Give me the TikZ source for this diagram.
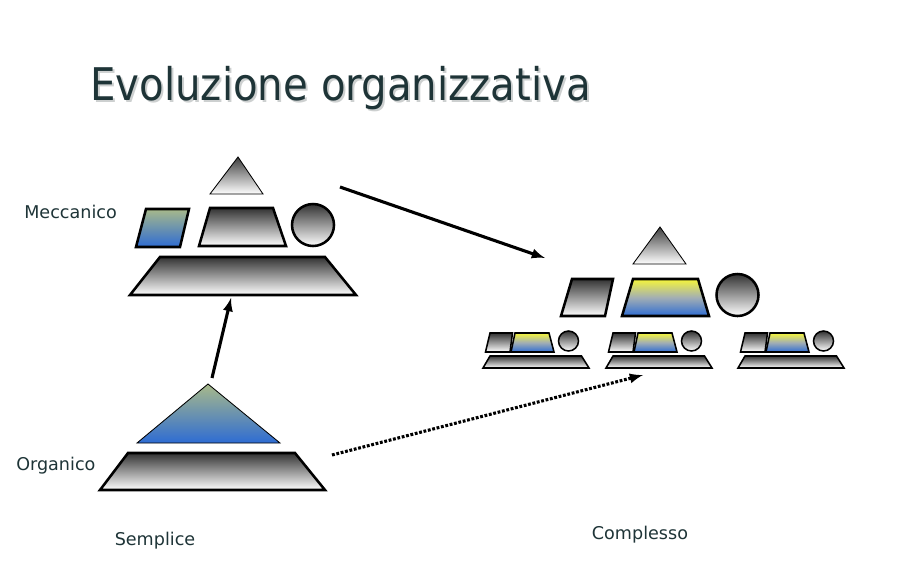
\documentclass[tikz,border=0pt]{standalone}
\usepackage{fontspec}
\usepackage{graphicx}
\setmainfont{DejaVu Sans}

\definecolor{titleink}{HTML}{1E3437}
\definecolor{titleshade}{HTML}{CDD0D0}
\definecolor{moss}{HTML}{A8B98A}
\definecolor{sky}{HTML}{2E6CD3}
\definecolor{lemon}{HTML}{F6F63A}
\definecolor{haze}{HTML}{A2AEB4}

\begin{document}
\begin{tikzpicture}[
  x=0.025cm, y=-0.025cm,
  grayshape/.style={
        draw=black,
        line width=1.8pt,
        top color=black!80,
        bottom color=white
  },
  smallgray/.style={grayshape, line width=1.1pt},
  thintri/.style={
        draw=black,
        line width=0.6pt,
        top color=black!75,
        bottom color=white
  },
  blueshape/.style={
        draw=black,
        line width=1.8pt,
        top color=moss,
        bottom color=sky
  },
  yellowshape/.style={
        draw=black,
        line width=1.8pt,
        top color=lemon,
        bottom color=sky,
        middle color=haze
  },
  smallyellow/.style={yellowshape, line width=1.1pt},
  label/.style={font=\fontsize{12.5}{14}\selectfont, text=titleink, inner sep=0pt},
  link/.style={line width=2.2pt, -latex}
]

    \useasboundingbox (0,0) rectangle (907,567);

    % title
    \node[anchor=base west, inner sep=0pt, text=titleshade,
          font=\fontsize{32}{36}\selectfont] (T_s) at (92,102)
          {\scalebox{0.895}[1]{Evoluzione organizzativa}};
    \node[anchor=base west, inner sep=0pt, text=titleink,
          font=\fontsize{32}{36}\selectfont] (T) at (90,100)
          {\scalebox{0.895}[1]{Evoluzione organizzativa}};

    % meccanico
    \node[label, anchor=west] (L_mec) at (24,212) {Meccanico};
    \path[thintri] (238,157) -- (263,194) -- (210,194) -- cycle;
    \path[blueshape] (146,209) -- (189,209) -- (180,247) -- (136,247) -- cycle;
    \path[grayshape] (210,208) -- (273,208) -- (286,246) -- (199,246) -- cycle;
    \path[grayshape] (313,225) circle (21);
    \path[grayshape] (160,257) -- (325,257) -- (356,295) -- (130,295) -- cycle;
    \coordinate (M_base) at (231,298);
    \coordinate (M_right) at (340,187);

    % organico
    \node[label, anchor=west] (L_org) at (16,466) {Organico};
    \path[thintri, top color=moss, bottom color=sky] (208,384) -- (280,443) -- (137,443) -- cycle;
    \path[grayshape] (128,453) -- (295,453) -- (325,490) -- (100,490) -- cycle;
    \coordinate (O_top) at (212,378);
    \coordinate (O_right) at (332,455);
    \node[label] (L_sem) at (155,541) {Semplice};

    % complesso
    \path[thintri] (660,227) -- (686,264) -- (633,264) -- cycle;
    \path[grayshape] (572,279) -- (613,279) -- (605,316) -- (561,316) -- cycle;
    \path[yellowshape] (633,279) -- (698,279) -- (709,316) -- (622,316) -- cycle;
    \path[grayshape] (737.5,295) circle (21);
    \coordinate (C_top) at (545,258);
    \coordinate (C_mid) at (643,375);
    \node[label] (L_com) at (640,535) {Complesso};

    \begin{scope}[shift={(0,0)}]
        \path[smallgray] (490,333) -- (512.5,333) -- (510,352) -- (485.5,352) -- cycle;
        \path[smallyellow] (515,333) -- (549,333) -- (554,352) -- (511,352) -- cycle;
        \path[smallgray] (568.5,341) circle (10);
        \path[smallgray] (490,356) -- (581.5,356) -- (589,368) -- (483,368) -- cycle;
    \end{scope}
    \begin{scope}[shift={(123,0)}]
        \path[smallgray] (490,333) -- (512.5,333) -- (510,352) -- (485.5,352) -- cycle;
        \path[smallyellow] (515,333) -- (549,333) -- (554,352) -- (511,352) -- cycle;
        \path[smallgray] (568.5,341) circle (10);
        \path[smallgray] (490,356) -- (581.5,356) -- (589,368) -- (483,368) -- cycle;
    \end{scope}
    \begin{scope}[shift={(255,0)}]
        \path[smallgray] (490,333) -- (512.5,333) -- (510,352) -- (485.5,352) -- cycle;
        \path[smallyellow] (515,333) -- (549,333) -- (554,352) -- (511,352) -- cycle;
        \path[smallgray] (568.5,341) circle (10);
        \path[smallgray] (490,356) -- (581.5,356) -- (589,368) -- (483,368) -- cycle;
    \end{scope}

    % arrows
    \draw[link] (O_top) -- (M_base);
    \draw[link] (M_right) -- (C_top);
    \draw[link, dash pattern=on 2pt off 1.2pt] (O_right) -- (C_mid);
\end{tikzpicture}
\end{document}
